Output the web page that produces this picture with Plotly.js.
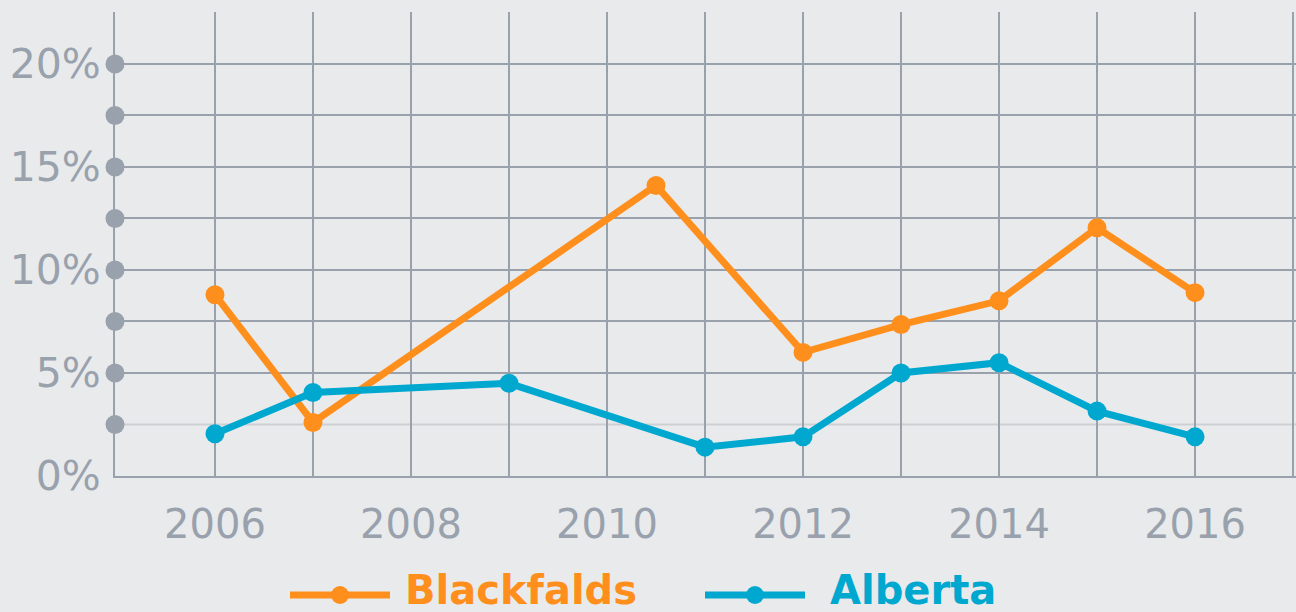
<!DOCTYPE html>
<html>
<head>
<meta charset="utf-8">
<script src="https://cdn.plot.ly/plotly-3.0.1.min.js"></script>
<style>html,body{margin:0;padding:0;background:#e9eaec;}#chart{width:1296px;height:612px;}</style>
</head>
<body>
<div id="chart"></div>
<script>
// Data
const blackfaldsYears = [2006, 2007, 2010.5, 2012, 2013, 2014, 2015, 2016];
const blackfaldsValues = [8.8, 2.6, 14.1, 6.0, 7.35, 8.5, 12.05, 8.9];
const albertaYears = [2006, 2007, 2009, 2011, 2012, 2013, 2014, 2015, 2016];
const albertaValues = [2.05, 4.05, 4.5, 1.4, 1.9, 5.0, 5.5, 3.15, 1.9];
const xTickVals = [2006, 2007, 2008, 2009, 2010, 2011, 2012, 2013, 2014, 2015, 2016, 2017];
const xTickText = ["2006", "", "2008", "", "2010", "", "2012", "", "2014", "", "2016", ""];
const yTickVals = [0, 5, 7.5, 10, 12.5, 15, 17.5, 20, 22.5];
const yTickText = ["0%", "5%", "", "10%", "", "15%", "", "20%", ""];
const yDotVals = [2.5, 5, 7.5, 10, 12.5, 15, 17.5, 20];
const lightGridVal = 2.5;
const seriesNames = ["Blackfalds", "Alberta"];

const ORANGE = "#ff8f1c", BLUE = "#00a8d0", GRID = "#98a1ac", TXT = "#98a1ac";
const X0 = 2004.98, X1 = 2017.03;

const traces = [
  {x: yDotVals.map(() => X0), y: yDotVals, mode: "markers", cliponaxis: false,
   marker: {size: 19, color: GRID}, showlegend: false, hoverinfo: "skip"},
  {x: blackfaldsYears, y: blackfaldsValues, name: seriesNames[0], mode: "lines+markers",
   line: {color: ORANGE, width: 7}, marker: {size: 19, color: ORANGE}, cliponaxis: false},
  {x: albertaYears, y: albertaValues, name: seriesNames[1], mode: "lines+markers",
   line: {color: BLUE, width: 7}, marker: {size: 19, color: BLUE}, cliponaxis: false}
];

// legend drawn in paper coords
function px2x(px){ return (px - 115) / 1181; }
function py2y(py){ return (476 - py) / 464; }
const ly = py2y(595);
const legendItems = [
  {color: ORANGE, x0: 290, x1: 390, text: seriesNames[0], tx: 403},
  {color: BLUE, x0: 705, x1: 805, text: seriesNames[1], tx: 828}
];
const shapes = [
  {type: "line", xref: "paper", yref: "y", x0: 0, x1: 1, y0: lightGridVal, y1: lightGridVal,
   line: {color: "#cdd0d3", width: 2}, layer: "below"}
];
const annotations = [];
legendItems.forEach(it => {
  shapes.push({type: "line", xref: "paper", yref: "paper", x0: px2x(it.x0), x1: px2x(it.x1), y0: ly, y1: ly,
    line: {color: it.color, width: 7}});
  const cx = px2x((it.x0 + it.x1) / 2);
  shapes.push({type: "circle", xref: "paper", yref: "paper", xsizemode: "pixel", ysizemode: "pixel",
    xanchor: cx, yanchor: ly, x0: -9, x1: 9, y0: -9, y1: 9,
    fillcolor: it.color, line: {color: it.color, width: 0}});
  annotations.push({xref: "paper", yref: "paper", x: px2x(it.tx), y: py2y(590), xanchor: "left", yanchor: "middle",
    text: "<b>" + it.text + "</b>", showarrow: false,
    font: {family: "DejaVu Sans", size: 40, color: it.color}});
});

const layout = {
  width: 1296, height: 612,
  margin: {l: 115, r: 0, t: 12, b: 136},
  paper_bgcolor: "#e9eaec", plot_bgcolor: "#e9eaec",
  showlegend: false,
  xaxis: {range: [X0, X1], tickvals: xTickVals, ticktext: xTickText,
    showgrid: true, gridcolor: GRID, gridwidth: 2, zeroline: false,
    showline: true, linecolor: GRID, linewidth: 2, ticks: "", ticklabelstandoff: 12,
    tickfont: {family: "DejaVu Sans", size: 40, color: TXT}},
  yaxis: {range: [0, 22.52], tickvals: yTickVals, ticktext: yTickText,
    showgrid: true, gridcolor: GRID, gridwidth: 2, zeroline: false,
    showline: true, linecolor: GRID, linewidth: 2, ticks: "", ticklabelstandoff: 4,
    tickfont: {family: "DejaVu Sans", size: 41, color: TXT}},
  shapes: shapes,
  annotations: annotations
};

Plotly.newPlot("chart", traces, layout, {displayModeBar: false, staticPlot: true});
</script>
</body>
</html>
